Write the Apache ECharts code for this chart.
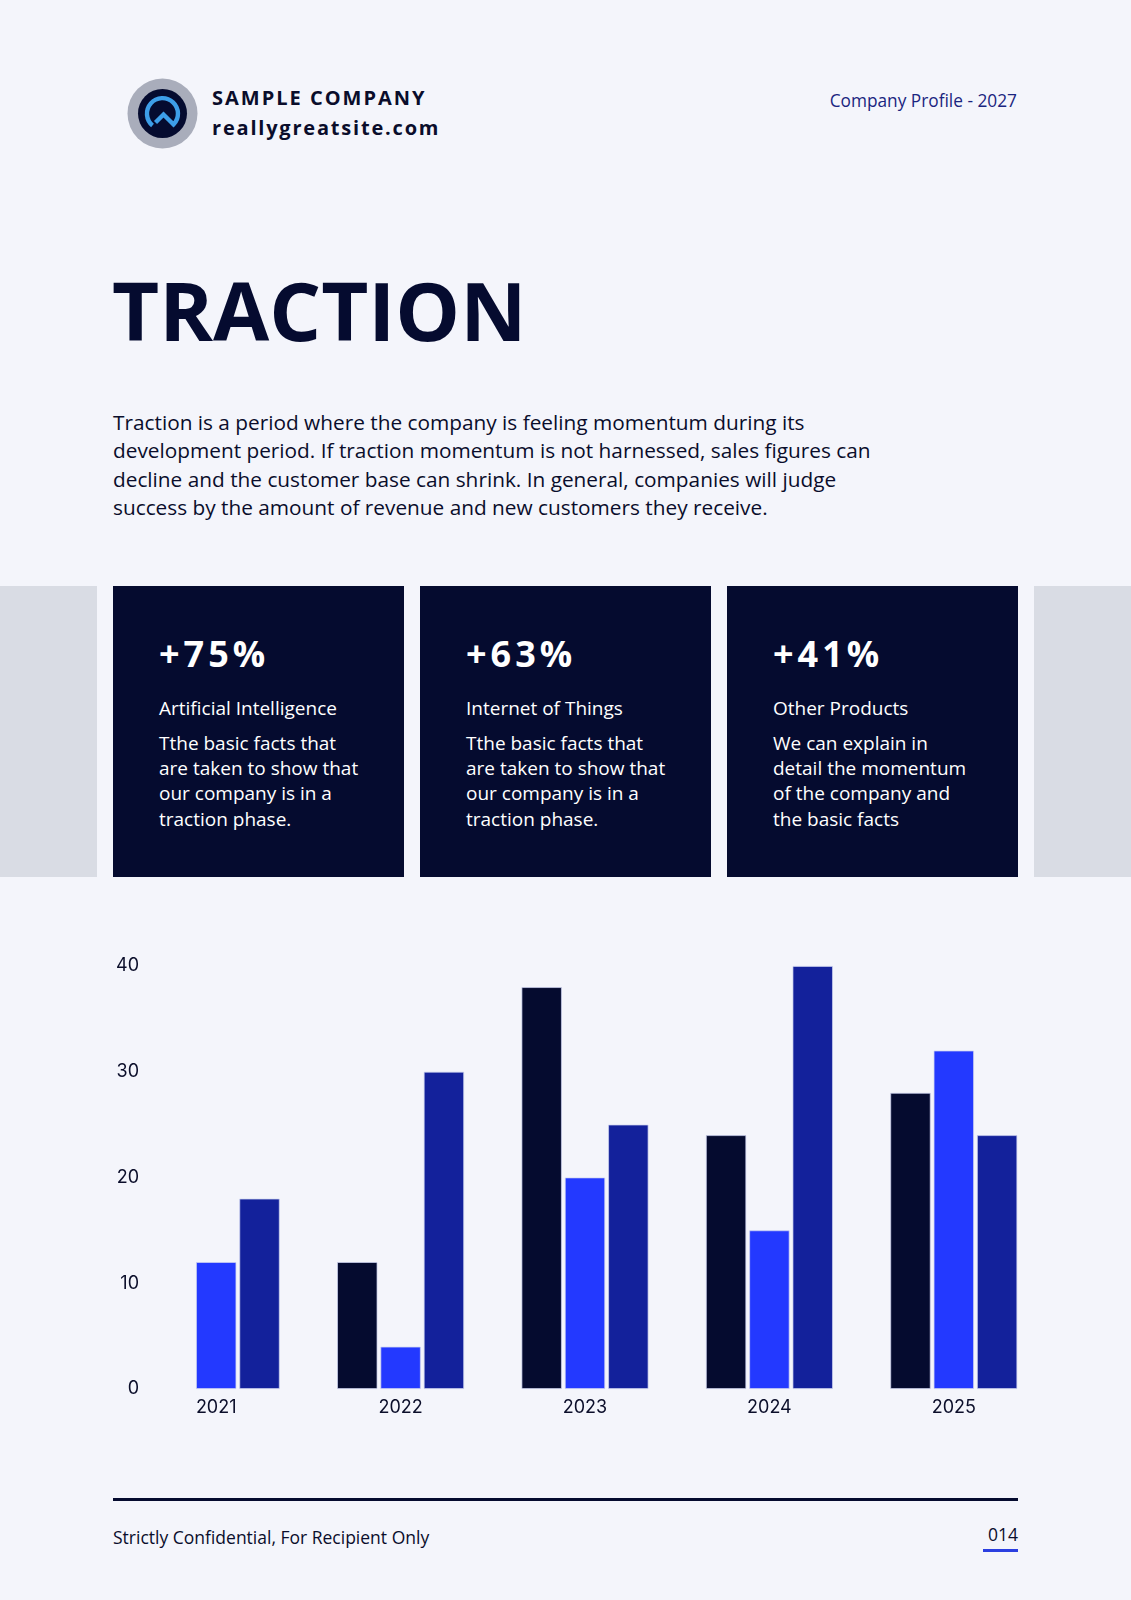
<!DOCTYPE html>
<html>
<head>
<meta charset="utf-8">
<title>Traction</title>
<script src="https://cdn.jsdelivr.net/npm/echarts@6/dist/echarts.min.js"></script>
<style>
  html, body { margin: 0; padding: 0; }
  body {
    width: 1131px; height: 1600px; position: relative; overflow: hidden;
    background: #f4f5fb; font-family: "Open Sans", sans-serif; color: #050b2f;
  }
  .abs { position: absolute; white-space: nowrap; }
  .brand { left: 212px; font-weight: 700; font-size: 20px; line-height: 20px; color: #0a0d2b; }
  .band { position: absolute; top: 586px; height: 291px; background: #d9dce4; }
  .card { position: absolute; top: 586px; width: 291px; height: 291px; background: #050b2f; color: #fff; }
  .card .pct { position: absolute; left: 46px; top: 50px; font-size: 36px; line-height: 35px; font-weight: 700; letter-spacing: 4px; }
  .card .name { position: absolute; left: 46px; top: 113px; font-size: 19px; line-height: 19px; }
  .card .txt { position: absolute; left: 46px; top: 145px; font-size: 19px; line-height: 25.2px; white-space: nowrap; }
  #chart { position: absolute; left: 0; top: 900px; width: 1131px; height: 550px; }
</style>
</head>
<body>

<svg class="abs" style="left:127px;top:78px" width="71" height="71" viewBox="-35.5 -35.5 71 71">
  <circle r="35" fill="#a9adbb"/>
  <circle r="24.5" fill="#050b2f"/>
  <path d="M -10 12 A 15.5 15.5 0 1 1 11 11 L 1 1 L -7 9" fill="none" stroke="#3d9ee8" stroke-width="4.4" stroke-linejoin="miter"/>
</svg>
<div class="abs brand" style="top:88px;letter-spacing:2px">SAMPLE COMPANY</div>
<div class="abs brand" style="top:118px;letter-spacing:1.8px">reallygreatsite.com</div>
<div class="abs" style="right:114px;top:92px;font-size:17.3px;line-height:17px;color:#1a2580">Company Profile - 2027</div>

<div class="abs" style="left:112px;top:269px;font-size:81.5px;line-height:81px;font-weight:700;color:#050b2f">TRACTION</div>

<div class="abs" style="left:113px;top:408px;font-size:20.8px;line-height:28.3px;color:#0a0d2b">
Traction is a period where the company is feeling momentum during its<br>
development period. If traction momentum is not harnessed, sales figures can<br>
decline and the customer base can shrink. In general, companies will judge<br>
success by the amount of revenue and new customers they receive.
</div>

<div class="band" style="left:0;width:97px"></div>
<div class="band" style="left:1034px;width:97px"></div>

<div class="card" style="left:113px">
  <div class="pct">+75%</div>
  <div class="name">Artificial Intelligence</div>
  <div class="txt">Tthe basic facts that<br>are taken to show that<br>our company is in a<br>traction phase.</div>
</div>
<div class="card" style="left:420px">
  <div class="pct">+63%</div>
  <div class="name">Internet of Things</div>
  <div class="txt">Tthe basic facts that<br>are taken to show that<br>our company is in a<br>traction phase.</div>
</div>
<div class="card" style="left:727px">
  <div class="pct">+41%</div>
  <div class="name">Other Products</div>
  <div class="txt">We can explain in<br>detail the momentum<br>of the company and<br>the basic facts</div>
</div>

<div id="chart"></div>

<div class="abs" style="left:113px;top:1498px;width:905px;height:3px;background:#050b2f"></div>
<div class="abs" style="left:113px;top:1529px;font-size:17.5px;line-height:17px;color:#0a0d2b">Strictly Confidential, For Recipient Only</div>
<div class="abs" style="right:113px;top:1526px;font-size:17.5px;line-height:17px;color:#0a0d2b">014</div>
<div class="abs" style="left:983px;top:1549px;width:35px;height:3px;background:#2b3fe0"></div>

<script>
// chart data
const years = ['2021', '2022', '2023', '2024', '2025'];
const navyValues = [null, 12, 38, 24, 28];
const blueValues = [12, 4, 20, 15, 32];
const royalValues = [18, 30, 25, 40, 24];
const yMin = 0, yMax = 40, yStep = 10;

const chart = echarts.init(document.getElementById('chart'));

function barSeries(data, color) {
  return {
    type: 'bar',
    data: data,
    barWidth: 40.3,
    barGap: '7.5%',
    itemStyle: { color: color, borderColor: 'rgba(205,210,240,0.9)', borderWidth: 0.8 }
  };
}

chart.setOption({
  animation: false,
  grid: { left: 124, right: 85, top: 66, bottom: 61 },
  xAxis: {
    type: 'category',
    data: years,
    axisLine: { show: false },
    axisTick: { show: false },
    axisLabel: { margin: 10, fontSize: 18, fontFamily: 'Inter', color: '#0b0e2a' }
  },
  yAxis: {
    type: 'value',
    min: yMin, max: yMax, interval: yStep,
    splitLine: { show: false },
    axisLine: { show: false },
    axisTick: { show: false },
    axisLabel: { margin: -15, fontSize: 18, fontFamily: 'Inter', color: '#0b0e2a', padding: [4, 0, 0, 0] }
  },
  series: [
    barSeries(navyValues, '#050b2f'),
    barSeries(blueValues, '#2339ff'),
    barSeries(royalValues, '#13219b')
  ]
});
</script>
</body>
</html>
